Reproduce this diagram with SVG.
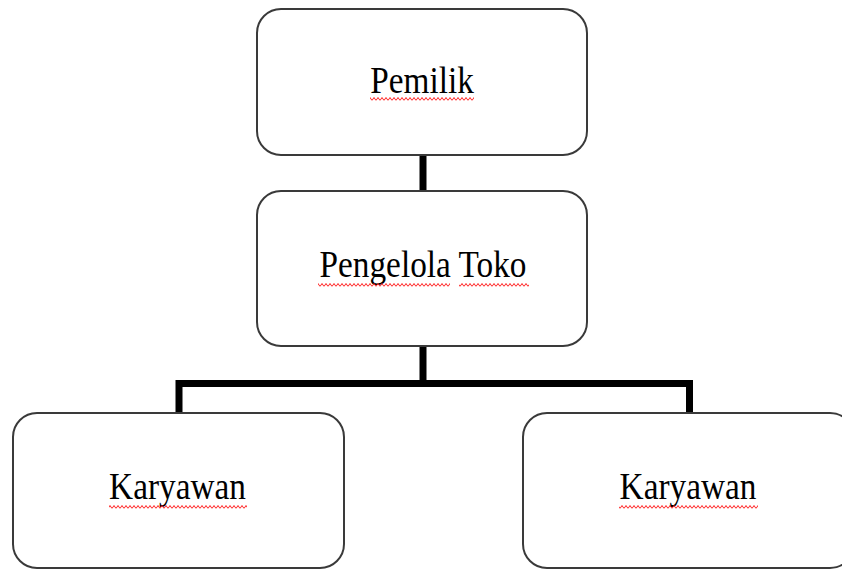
<svg xmlns="http://www.w3.org/2000/svg" width="842" height="570" viewBox="0 0 842 570">
<defs>
<pattern id="wavy" patternUnits="userSpaceOnUse" width="4" height="6">
<path d="M0,4.5 L2,1.5 L4,4.5" fill="none" stroke="#ff2020" stroke-width="1"/>
</pattern>
<style>
.box{fill:#ffffff;stroke:#3a3a3a;stroke-width:2}
.lbl{font-family:"Liberation Serif","Times New Roman",serif;font-size:33.3px;fill:#000;text-anchor:middle}
.conn{fill:none;stroke:#000;stroke-width:7;stroke-linecap:butt;stroke-linejoin:miter}
.sq{fill:url(#wavy)}
</style>
</defs>
<rect width="842" height="570" fill="#ffffff"/>
<g id="connectors">
<path class="conn" d="M423,155 V192"/>
<path class="conn" d="M423,346 V383.5 M179,413 V383.5 H689.5 V413"/>
</g>
<g id="pemilik">
<rect class="box" x="257" y="9" width="330" height="146" rx="24" ry="24"/>
<text class="lbl" transform="translate(422,93) scale(1,1.12)">Pemilik</text>
<rect class="sq" x="370" y="97" width="104" height="6"/>
</g>
<g id="pengelola">
<rect class="box" x="257" y="191" width="330" height="155" rx="24" ry="24"/>
<text class="lbl" transform="translate(423,277) scale(1,1.12)">Pengelola Toko</text>
<rect class="sq" x="318" y="282" width="132" height="6"/>
<rect class="sq" x="459" y="282" width="70" height="6"/>
</g>
<g id="karyawan1">
<rect class="box" x="13" y="413" width="331" height="155" rx="24" ry="24"/>
<text class="lbl" transform="translate(177.5,499) scale(1,1.12)">Karyawan</text>
<rect class="sq" x="109" y="503" width="138" height="6"/>
</g>
<g id="karyawan2">
<rect class="box" x="523" y="413" width="331" height="155" rx="24" ry="24"/>
<text class="lbl" transform="translate(688,499) scale(1,1.12)">Karyawan</text>
<rect class="sq" x="619" y="503" width="139" height="6"/>
</g>
</svg>
